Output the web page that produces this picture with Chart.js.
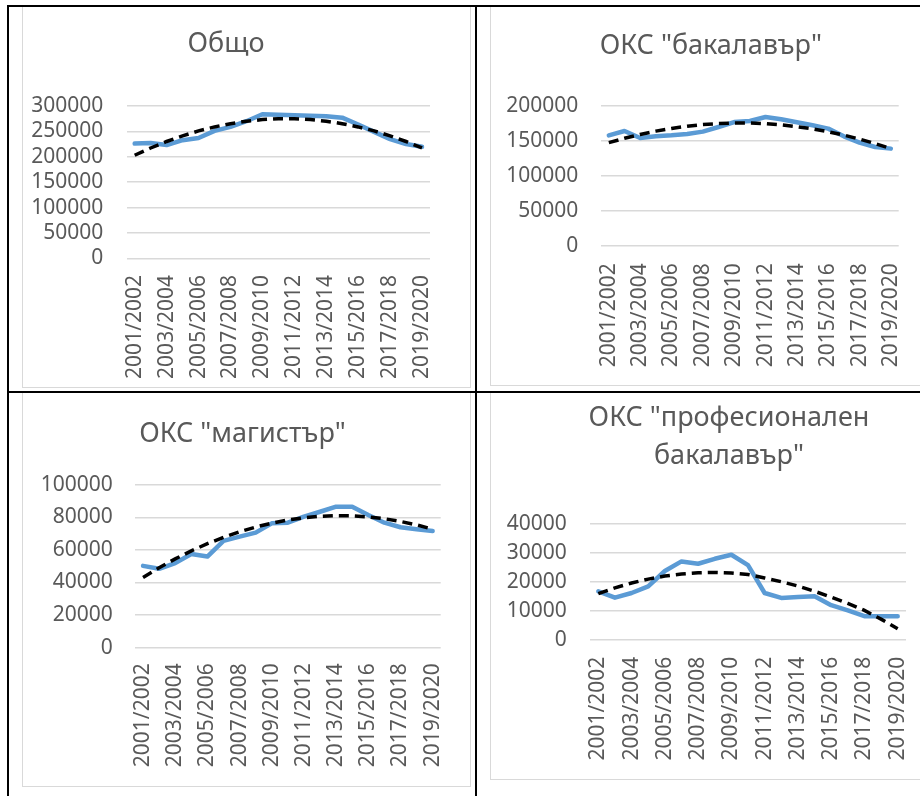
<!DOCTYPE html>
<html><head><meta charset="utf-8">
<script src="https://cdn.jsdelivr.net/npm/chart.js@4/dist/chart.umd.min.js"></script>
<style>
html,body{margin:0;padding:0;background:#fff;}
body{width:920px;height:796px;position:relative;overflow:hidden;}
.bl{position:absolute;background:#000;}
.fr{position:absolute;border:1.5px solid #d9d9d9;box-sizing:border-box;}
canvas{position:absolute;}
</style></head><body>
<div class="fr" style="left:22px;top:6px;width:449px;height:382px"></div>
<div class="fr" style="left:490px;top:6px;width:440px;height:380px"></div>
<div class="fr" style="left:22px;top:392px;width:449px;height:395px"></div>
<div class="fr" style="left:490px;top:392px;width:440px;height:388px"></div>
<div class="bl" style="left:7px;top:5px;width:913px;height:2px"></div>
<div class="bl" style="left:7px;top:5px;width:2px;height:791px"></div>
<div class="bl" style="left:7px;top:391px;width:913px;height:2px"></div>
<div class="bl" style="left:475px;top:5px;width:2px;height:791px"></div>
<canvas id="c1"></canvas>
<canvas id="c2"></canvas>
<canvas id="c3"></canvas>
<canvas id="c4"></canvas>
<script>
const categories = ['2001/2002','2002/2003','2003/2004','2004/2005','2005/2006','2006/2007','2007/2008','2008/2009','2009/2010','2010/2011','2011/2012','2012/2013','2013/2014','2014/2015','2015/2016','2016/2017','2017/2018','2018/2019','2019/2020'];

const totalValues = [226000,227000,223000,232700,237000,251000,259000,270000,283700,283000,282000,281000,280000,277000,263500,249000,234700,225000,219600];
const totalTrend  = [203000,217300,230100,241300,250900,258800,265200,270000,273200,274800,274800,273200,270000,265200,258800,250900,241300,230100,217300];

const bachelorValues = [158100,164300,154300,156700,158100,160000,163400,170000,177100,178600,184300,181000,176700,172400,167700,156700,147700,141400,139100];
const bachelorTrend  = [147600,153900,159400,164100,168000,171100,173400,174900,175600,175600,174700,173000,170500,167300,163200,158400,152700,146300,139000];

const masterValues = [50200,48400,51900,57500,55900,65500,68100,70600,76300,76700,80400,83400,86500,86500,81400,76700,73900,72700,71600];
const masterTrend  = [43100,49050,54470,59390,63810,67720,71120,74010,76430,78320,79710,80600,80980,80860,80240,79110,77470,75340,72700];

const profValues = [16800,14600,16200,18500,23800,27100,26300,28000,29400,25800,16200,14500,14800,15100,12000,10200,8200,8200,8200];
const profTrend  = [16000,17980,19650,21000,22040,22770,23190,23300,23090,22570,21400,20100,18600,16800,14800,12600,10200,7200,3900];

const titles = ['Общо', 'ОКС "бакалавър"', 'ОКС "магистър"', ['ОКС "професионален', 'бакалавър"']];
const yMaxes = [300000, 200000, 100000, 40000];
const ySteps = [50000, 50000, 20000, 10000];

const FONT = "'Noto Sans', 'DejaVu Sans', sans-serif";
const TEXT = '#595959';
const TITLE_SIZE = 27;
const TICK_SIZE = 21;

function build(id, o) {
  const cv = document.getElementById(id);
  const extraR = 2 * o.titleCx - o.plot.r - o.cl;
  const cw = Math.ceil(o.plot.r + extraR + o.padR - o.cl);
  const padR = o.cl + cw - o.plot.r - extraR;
  cv.width = cw; cv.height = o.ch;
  cv.style.left = o.cl + 'px'; cv.style.top = o.ct + 'px';
  const yW = o.plot.l - o.cl;
  const lines = Array.isArray(o.title) ? o.title.length : 1;
  const lh = o.titleLH * TITLE_SIZE;
  const pT = o.titleCy - o.ct - lh / 2;
  const pB = o.plot.t - o.ct - pT - lh * lines;
  const xH = o.ct + o.ch - o.plot.b;
  new Chart(cv, {
    type: 'line',
    data: {
      labels: categories,
      datasets: [
        { data: o.trend, borderColor: '#000', borderWidth: 3.5, borderDash: [10, 6], borderCapStyle: 'butt',
          pointRadius: 0, tension: 0, fill: false, order: 0 },
        { data: o.values, borderColor: '#5b9bd5', borderWidth: 4.5, borderJoinStyle: 'round', borderCapStyle: 'round',
          pointRadius: 0, tension: 0, fill: false, order: 1 }
      ]
    },
    options: {
      responsive: false, animation: false, devicePixelRatio: 1,
      layout: { padding: { left: 0, right: padR, top: 0, bottom: 0 } },
      plugins: {
        legend: { display: false }, tooltip: { enabled: false },
        title: { display: true, text: o.title, color: TEXT,
          font: { family: FONT, size: TITLE_SIZE, weight: 'normal', lineHeight: o.titleLH },
          padding: { top: pT, bottom: pB } }
      },
      scales: {
        x: {
          offset: true,
          grid: { display: false, drawTicks: false },
          border: { display: false },
          ticks: { autoSkip: false, minRotation: 90, maxRotation: 90, padding: o.xGap, color: TEXT,
            font: { family: FONT, size: TICK_SIZE },
            callback: function (v, i) { return i % 2 === 0 ? categories[i] : ''; } },
          afterFit: function (s) { s.height = xH; s.paddingLeft = 0; s.paddingRight = extraR; }
        },
        y: {
          min: 0, max: o.ymax,
          grid: { color: '#d9d9d9', lineWidth: 1.5, drawTicks: false },
          border: { display: false },
          ticks: { stepSize: o.ystep, autoSkip: false, padding: o.yGap, color: TEXT,
            font: { family: FONT, size: TICK_SIZE },
            callback: function (v) { return String(v); } },
          afterFit: function (s) { s.width = yW; }
        }
      }
    }
  });
}

build('c1', { cl: 22, ct: 8, padR: 10, ch: 376, plot: { l: 126.7, r: 426, t: 106, b: 258.3 },
  titleCx: 226, titleCy: 44.2, titleLH: 1.2, title: titles[0], xGap: 16.7, yGap: 23.4,
  ymax: yMaxes[0], ystep: ySteps[0], values: totalValues, trend: totalTrend });
build('c2', { cl: 492, ct: 8, padR: 0, ch: 372, plot: { l: 601, r: 898.3, t: 106, b: 246 },
  titleCx: 710.8, titleCy: 46.8, titleLH: 1.2, title: titles[1], xGap: 17.3, yGap: 22.7,
  ymax: yMaxes[1], ystep: ySteps[1], values: bachelorValues, trend: bachelorTrend });
build('c3', { cl: 24, ct: 394, padR: 0, ch: 384, plot: { l: 135, r: 440.7, t: 484.7, b: 647.7 },
  titleCx: 242.5, titleCy: 434.3, titleLH: 1.2, title: titles[2], xGap: 15.6, yGap: 22.3,
  ymax: yMaxes[2], ystep: ySteps[2], values: masterValues, trend: masterTrend });
build('c4', { cl: 492, ct: 394, padR: 0, ch: 380, plot: { l: 590, r: 906, t: 524, b: 640 },
  titleCx: 729, titleCy: 418.5, titleLH: 1.396, title: titles[3], xGap: 16.7, yGap: 23.3,
  ymax: yMaxes[3], ystep: ySteps[3], values: profValues, trend: profTrend });
</script>
</body></html>
